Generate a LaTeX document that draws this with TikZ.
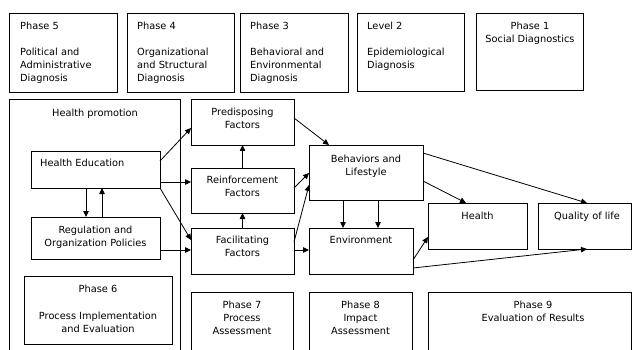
\documentclass[tikz,border=0pt]{standalone}
\usepackage{fontspec}
\setmainfont{DejaVu Sans}
\usetikzlibrary{calc,arrows.meta}

\tikzset{
  box/.style={draw, line width=0.8pt, inner sep=0pt, outer sep=0pt, anchor=north west},
  txt/.style={inner sep=0pt, font=\fontsize{9.8}{13}\selectfont},
  arr/.style={line width=0.8pt, -{Triangle[length=6pt,width=5.5pt]}}
}

\begin{document}
\begin{tikzpicture}[x=1pt, y=-1pt]
			\useasboundingbox (0,0) rectangle (632,350);
			\clip (0,0) rectangle (632,350);
			% diagnosis phases
			\node[box, minimum width=108pt, minimum height=79pt] (ph5) at (9,13) {};
			\node[box, minimum width=107pt, minimum height=79pt] (ph4) at (127,13) {};
			\node[box, minimum width=108pt, minimum height=79pt] (ph3) at (240,13) {};
			\node[box, minimum width=107pt, minimum height=78pt] (lv2) at (357,13) {};
			\node[box, minimum width=107pt, minimum height=77pt] (ph1) at (476,13) {};
			\node[txt, anchor=north west, align=left] (ph5t) at (20,21.5) {Phase 5\\[13.5pt]Political and\\Administrative\\Diagnosis};
			\node[txt, anchor=north west, align=left] (ph4t) at (137,21.5) {Phase 4\\[13.5pt]Organizational\\and Structural\\Diagnosis};
			\node[txt, anchor=north west, align=left] (ph3t) at (250,21.5) {Phase 3\\[13.5pt]Behavioral and\\Environmental\\Diagnosis};
			\node[txt, anchor=north west, align=left] (lv2t) at (367,21.5) {Level 2\\[13.5pt]Epidemiological\\Diagnosis};
			\node[txt, anchor=north, align=center] (ph1t) at (530,21.5) {Phase 1\\Social Diagnostics};
			% health promotion
			\node[box, minimum width=171pt, minimum height=270pt] (hp) at (9,99) {};
			\node[txt, anchor=north] (hpt) at (95,108.5) {Health promotion};
			\node[box, minimum width=129pt, minimum height=37pt] (he) at (31,151) {};
			\node[txt, anchor=north west] (het) at (40,159) {Health Education};
			\node[box, minimum width=129pt, minimum height=42pt] (reg) at (31,217) {};
			\node[txt, anchor=north, align=center] (regt) at (95.5,225.5) {Regulation and\\Organization Policies};
			% factors
			\node[box, minimum width=103pt, minimum height=46pt] (pre) at (191,99) {};
			\node[txt, anchor=north, align=center] (pret) at (242.5,108) {Predisposing\\Factors};
			\node[box, minimum width=103pt, minimum height=45pt] (rei) at (191,168) {};
			\node[txt, anchor=north, align=center] (reit) at (242.5,176) {Reinforcement\\Factors};
			\node[box, minimum width=103pt, minimum height=46pt] (fac) at (191,228) {};
			\node[txt, anchor=north, align=center] (fact) at (242.5,236) {Facilitating\\Factors};
			% outcomes
			\node[box, minimum width=114pt, minimum height=55pt] (beh) at (309,145) {};
			\node[txt, anchor=north, align=center] (beht) at (366,155) {Behaviors and\\Lifestyle};
			\node[box, minimum width=104pt, minimum height=46pt] (env) at (309,228) {};
			\node[txt, anchor=north] (envt) at (361,236) {Environment};
			\node[box, minimum width=99pt, minimum height=46pt] (hea) at (428,203) {};
			\node[txt, anchor=north] (heat) at (477.5,212) {Health};
			\node[box, minimum width=93.5pt, minimum height=46pt] (qol) at (538,203) {};
			\node[txt, anchor=north] (qolt) at (587,212) {Quality of life};
			% evaluation phases
			\node[box, minimum width=148pt, minimum height=68pt] (ph6) at (24,276) {};
			\node[txt, anchor=north, align=center] (ph6t) at (98,285) {Phase 6\\[13.5pt]Process Implementation\\and Evaluation};
			\node[box, minimum width=102pt, minimum height=80pt] (ph7) at (191,292) {};
			\node[txt, anchor=north, align=center] (ph7t) at (242,301) {Phase 7\\Process\\Assessment};
			\node[box, minimum width=103pt, minimum height=80pt] (ph8) at (309,292) {};
			\node[txt, anchor=north, align=center] (ph8t) at (360.5,301) {Phase 8\\Impact\\Assessment};
			\node[box, minimum width=203.5pt, minimum height=80pt] (ph9) at (428,292) {};
			\node[txt, anchor=north, align=center] (ph9t) at (533,301) {Phase 9\\Evaluation of Results};
			% arrows
			\draw[arr] ($(he.north east)+(0,10)$) -- ($(pre.north west)+(0,29)$);
			\draw[arr] ($(he.north east)+(0,31)$) -- ($(rei.north west)+(0,14)$);
			\draw[arr] (he.south east) -- ($(fac.north west)+(0,12)$);
			\draw[arr] ($(he.south west)+(55,0)$) -- ($(reg.north west)+(55,0)$);
			\draw[arr] ($(reg.north west)+(71,0)$) -- ($(he.south west)+(71,0)$);
			\draw[arr] ($(reg.north east)+(0,33)$) -- ($(fac.north west)+(0,22)$);
			\draw[arr] (rei.north) -- (pre.south);
			\draw[arr] (fac.north) -- (rei.south);
			\draw[arr] ($(pre.north east)+(0,19)$) -- ($(beh.north west)+(20,0)$);
			\draw[arr] ($(rei.north east)+(0,20)$) -- ($(beh.north west)+(0,28)$);
			\draw[arr] ($(fac.north east)+(0,14)$) -- ($(beh.north west)+(0,40)$);
			\draw[arr] ($(fac.north east)+(0,22)$) -- ($(env.north west)+(0,22)$);
			\draw[arr] ($(beh.south west)+(34,0)$) -- ($(env.north west)+(34,0)$);
			\draw[arr] ($(beh.south west)+(69,0)$) -- ($(env.north west)+(69,0)$);
			\draw[arr] ($(beh.north east)+(0,8)$) -- ($(qol.north west)+(49,0)$);
			\draw[arr] ($(beh.north east)+(0,36)$) -- ($(hea.north west)+(38,0)$);
			\draw[arr] ($(env.north east)+(0,32)$) -- ($(hea.north west)+(0,34)$);
			\draw[arr] ($(env.north east)+(0,40)$) -- ($(qol.south west)+(49,0)$);
		\end{tikzpicture}
\end{document}
